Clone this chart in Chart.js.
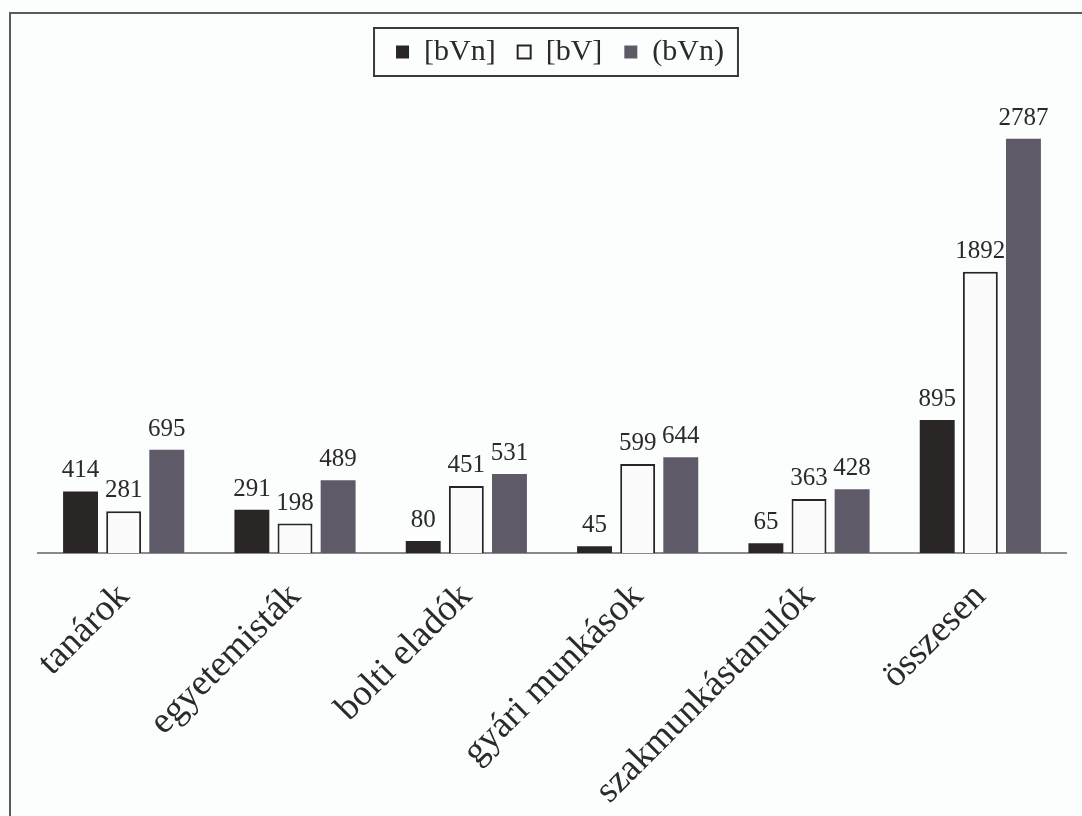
<!DOCTYPE html>
<html>
<head>
<meta charset="utf-8">
<script src="https://cdn.jsdelivr.net/npm/chart.js@4"></script>
<style>
  html, body { margin: 0; padding: 0; background: #fcfdfd; overflow: hidden; }
  #wrap { position: relative; width: 1082px; height: 816px; }
</style>
</head>
<body>
<div id="wrap"><canvas id="c" width="1082" height="816"></canvas></div>
<script>
// Categories and series values
const categories = ['tanárok', 'egyetemisták', 'bolti eladók', 'gyári munkások', 'szakmunkástanulók', 'összesen'];
const seriesNames = ['[bVn]', '[bV]', '(bVn)'];
const bVnSquare = [414, 291, 80, 45, 65, 895];
const bV = [281, 198, 451, 599, 363, 1892];
const bVnRound = [695, 489, 531, 644, 428, 2787];

const SERIF = '"Liberation Serif", "DejaVu Serif", serif';
const LEGEND_SHIFT = 8;

// Page background and the outer frame
const frame = {
  id: 'frame',
  beforeDraw(chart) {
    const ctx = chart.ctx;
    ctx.save();
    ctx.fillStyle = '#fcfdfd';
    ctx.fillRect(0, 0, chart.width, chart.height);
    ctx.strokeStyle = '#5a5a5a';
    ctx.lineWidth = 2;
    ctx.strokeRect(10, 13, chart.width + 20, chart.height + 20);
    ctx.restore();
  }
};

// Extra space under the legend, a small horizontal nudge, and a box around it
const legendBox = {
  id: 'legendBox',
  beforeInit(chart) {
    const legend = chart.legend;
    const origFit = legend.fit;
    legend.fit = function () {
      origFit.bind(legend)();
      this.height += 30;
    };
    const origDraw = legend.draw;
    legend.draw = function () {
      const ctx = chart.ctx;
      ctx.save();
      ctx.translate(LEGEND_SHIFT, 0);
      origDraw.bind(legend)();
      ctx.restore();
    };
  },
  afterDraw(chart) {
    const boxes = chart.legend.legendHitBoxes;
    if (!boxes || !boxes.length) return;
    const first = boxes[0], last = boxes[boxes.length - 1];
    const ctx = chart.ctx;
    ctx.save();
    ctx.strokeStyle = '#3a3a3a';
    ctx.lineWidth = 2;
    const l = first.left - 22 + LEGEND_SHIFT, r = last.left + last.width + 14 + LEGEND_SHIFT;
    const t = first.top - 9, b = first.top + first.height + 9;
    ctx.strokeRect(l, t, r - l, b - t);
    ctx.restore();
  }
};

// Value labels above each bar
const valueLabels = {
  id: 'valueLabels',
  afterDatasetsDraw(chart) {
    const ctx = chart.ctx;
    ctx.save();
    ctx.font = '25px ' + SERIF;
    ctx.fillStyle = '#2a2a2a';
    ctx.textAlign = 'center';
    ctx.textBaseline = 'alphabetic';
    chart.data.datasets.forEach((ds, i) => {
      const meta = chart.getDatasetMeta(i);
      meta.data.forEach((bar, j) => {
        ctx.fillText(String(ds.data[j]), bar.x, bar.y - 14);
      });
    });
    ctx.restore();
  }
};

new Chart(document.getElementById('c'), {
  type: 'bar',
  data: {
    labels: categories,
    datasets: [
      { label: seriesNames[0], data: bVnSquare, backgroundColor: '#2a2626', borderColor: '#2a2626', borderWidth: 0 },
      { label: seriesNames[1], data: bV, backgroundColor: '#fbfbfc', borderColor: '#262626', borderWidth: 2 },
      { label: seriesNames[2], data: bVnRound, backgroundColor: '#5e5a67', borderColor: '#5e5a67', borderWidth: 0 }
    ]
  },
  options: {
    responsive: false,
    animation: false,
    devicePixelRatio: 1,
    categoryPercentage: 0.755,
    barPercentage: 0.81,
    layout: { padding: { top: 15, left: 38, right: 16, bottom: 0 } },
    plugins: {
      legend: {
        position: 'top',
        labels: {
          font: { family: SERIF, size: 30 },
          color: '#2a2a2a',
          boxWidth: 13,
          boxHeight: 13,
          padding: 22
        }
      },
      tooltip: { enabled: false }
    },
    scales: {
      x: {
        grid: { display: false, drawTicks: false },
        border: { display: true, color: '#8a8a8a', width: 2 },
        ticks: {
          font: { family: SERIF, size: 37 },
          color: '#2a2a2a',
          maxRotation: 45,
          minRotation: 45,
          padding: 22,
          autoSkip: false
        },
        afterFit(scale) { scale.height = 263; }
      },
      y: {
        display: false,
        min: 0,
        max: 3000
      }
    }
  },
  plugins: [frame, legendBox, valueLabels]
});
</script>
</body>
</html>
